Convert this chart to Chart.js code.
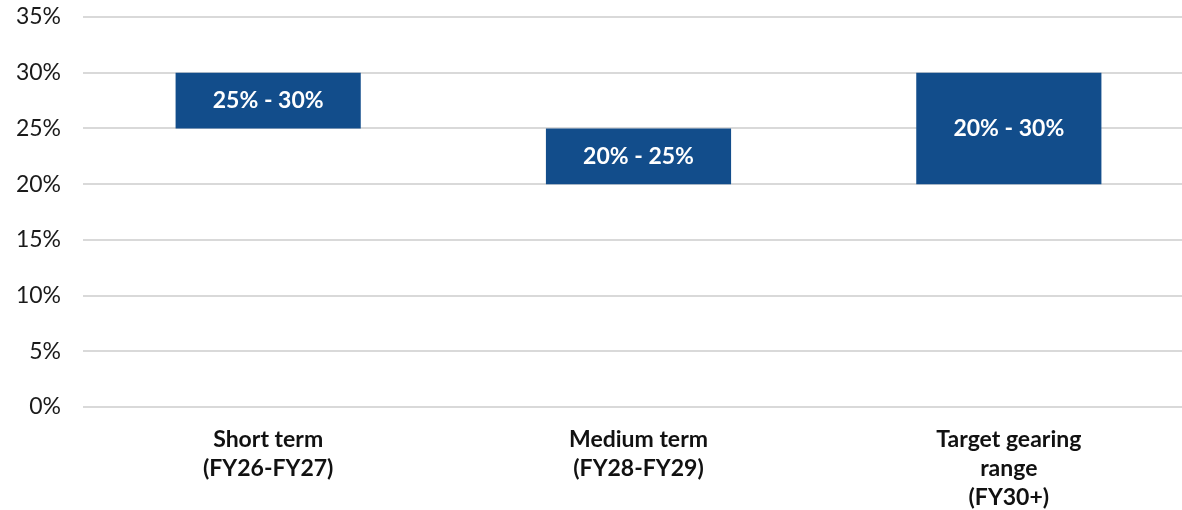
<!DOCTYPE html>
<html>
<head>
<meta charset="utf-8">
<script src="https://cdn.jsdelivr.net/npm/chart.js@4"></script>
<style>
  html, body { margin: 0; padding: 0; background: #fff; overflow: hidden; }
  .chart-wrap { width: 1194px; height: 510px; position: relative; }
</style>
</head>
<body>
<div class="chart-wrap"><canvas id="gearingChart"></canvas></div>
<script>
const categories = [
  ["Short term", "(FY26-FY27)"],
  ["Medium term", "(FY28-FY29)"],
  ["Target gearing", "range", "(FY30+)"]
];
const lowValues = [25, 20, 20];
const highValues = [30, 25, 30];
const rangeLabels = ["25% - 30%", "20% - 25%", "20% - 30%"];
const yTicks = [0, 5, 10, 15, 20, 25, 30, 35];

const fontName = "Lato, 'Open Sans', sans-serif";
const barColor = "#124d8b";

const ranges = lowValues.map((lo, i) => [lo, highValues[i]]);

// writes the range text in the middle of each bar
const barLabels = {
  id: "barLabels",
  afterDatasetsDraw(chart) {
    const ctx = chart.ctx;
    const meta = chart.getDatasetMeta(0);
    ctx.save();
    ctx.fillStyle = "#ffffff";
    ctx.font = "bold 23px " + fontName;
    ctx.textAlign = "center";
    ctx.textBaseline = "middle";
    meta.data.forEach((bar, i) => {
      ctx.fillText(rangeLabels[i], bar.x, (bar.y + bar.base) / 2);
    });
    ctx.restore();
  }
};

const ctx = document.getElementById("gearingChart").getContext("2d");
new Chart(ctx, {
  type: "bar",
  data: {
    labels: categories,
    datasets: [
      {
        data: ranges,
        backgroundColor: barColor,
        borderWidth: 0,
        barPercentage: 0.5,
        categoryPercentage: 1.0
      }
    ]
  },
  options: {
    responsive: true,
    maintainAspectRatio: false,
    animation: false,
    layout: { padding: { top: 17, left: 0, right: 0, bottom: 0 } },
    plugins: {
      legend: { display: false },
      tooltip: { enabled: false }
    },
    scales: {
      x: {
        grid: { display: false },
        border: { display: false },
        ticks: {
          color: "#111111",
          padding: 10,
          maxRotation: 0,
          font: { family: fontName, size: 23, weight: "bold", lineHeight: 1.26 }
        },
        afterFit(scale) {
          scale.height = 103;
          scale.paddingLeft = 0;
          scale.paddingRight = 0;
        }
      },
      y: {
        min: 0,
        max: 35,
        afterBuildTicks(scale) { scale.ticks = yTicks.map(v => ({ value: v })); },
        grid: { color: "#d9d9d9", lineWidth: 2, drawTicks: false },
        border: { display: false },
        ticks: {
          color: "#1a1a1a",
          padding: 22,
          font: { family: fontName, size: 23 },
          callback: (v) => v + "%"
        },
        afterFit(scale) {
          scale.width = 83;
          scale.paddingTop = 0;
          scale.paddingBottom = 0;
        }
      }
    }
  },
  plugins: [barLabels]
});
</script>
</body>
</html>
